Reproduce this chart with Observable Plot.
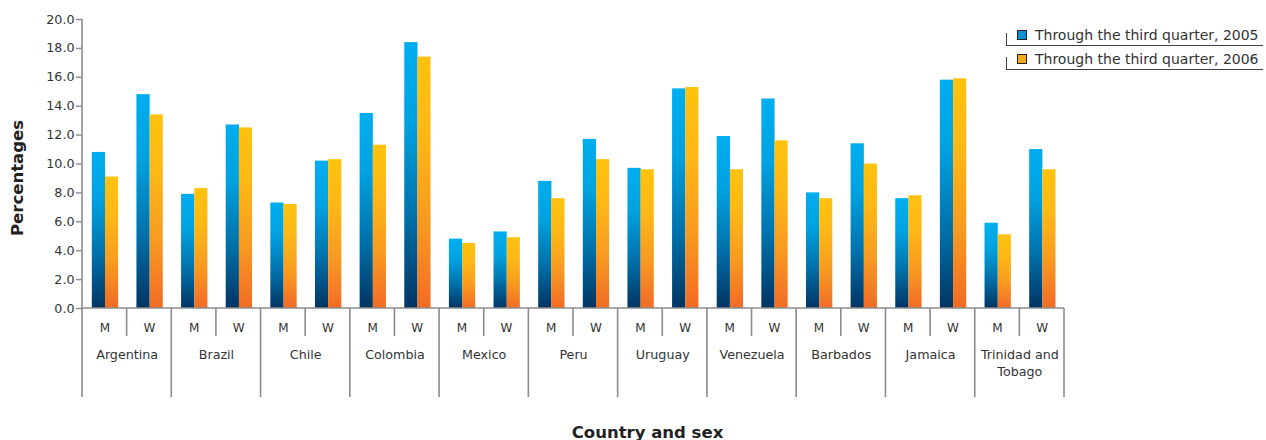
<!DOCTYPE html>
<html>
<head>
<meta charset="utf-8">
<script src="https://cdn.jsdelivr.net/npm/d3@7"></script>
<script src="https://cdn.jsdelivr.net/npm/@observablehq/plot@0.6"></script>
<style>
  body { margin: 0; background: #fff; font-family: "DejaVu Sans", Verdana, sans-serif; }
  #wrap { position: relative; width: 1266px; height: 440px; }
  .lg-row { position: absolute; left: 1006px; width: 256px; height: 12px;
            border-left: 1.5px solid #444; border-bottom: 1.5px solid #444; }
  .lg-sw { position: absolute; width: 8px; height: 8px; border: 1px solid #222; }
  .lg-tx { position: absolute; font-size: 14px; color: #333; white-space: nowrap; line-height: 14px; }
</style>
</head>
<body>
<svg width="0" height="0" style="position:absolute">
  <defs>
    <linearGradient id="g05" x1="0" y1="0" x2="0" y2="1">
      <stop offset="0" stop-color="#00aeef"/>
      <stop offset="0.3" stop-color="#00a2e1"/>
      <stop offset="0.65" stop-color="#0072ab"/>
      <stop offset="1" stop-color="#003463"/>
    </linearGradient>
    <linearGradient id="g06" x1="0" y1="0" x2="0" y2="1">
      <stop offset="0" stop-color="#ffc20e"/>
      <stop offset="0.3" stop-color="#fdb816"/>
      <stop offset="0.65" stop-color="#f89b21"/>
      <stop offset="1" stop-color="#f26b26"/>
    </linearGradient>
  </defs>
</svg>
<div id="wrap"></div>
<script>
const countries = ["Argentina", "Brazil", "Chile", "Colombia", "Mexico", "Peru", "Uruguay", "Venezuela", "Barbados", "Jamaica", "Trinidad and Tobago"];
const countryLabels = ["Argentina", "Brazil", "Chile", "Colombia", "Mexico", "Peru", "Uruguay", "Venezuela", "Barbados", "Jamaica", "Trinidad and\nTobago"];
const sexes = ["M", "W"];
const series = ["Through the third quarter, 2005", "Through the third quarter, 2006"];
// values in order: country M, country W
const v2005 = [10.8, 14.8, 7.9, 12.7, 7.3, 10.2, 13.5, 18.4, 4.8, 5.3, 8.8, 11.7, 9.7, 15.2, 11.9, 14.5, 8.0, 11.4, 7.6, 15.8, 5.9, 11.0];
const v2006 = [9.1, 13.4, 8.3, 12.5, 7.2, 10.3, 11.3, 17.4, 4.5, 4.9, 7.6, 10.3, 9.6, 15.3, 9.6, 11.6, 7.6, 10.0, 7.8, 15.9, 5.1, 9.6];
const yTicks = [0, 2, 4, 6, 8, 10, 12, 14, 16, 18, 20];

const rows = [];
countries.forEach((c, i) => sexes.forEach((s, j) => {
  const k = i * 2 + j;
  rows.push({key: c + "|" + s, country: c, sex: s, a: v2005[k], b: v2006[k]});
}));
const keys = rows.map(d => d.key);

const W = 1266, H = 440, ML = 82, MR = 202, MT = 19, MB = 132;
const BW = (W - ML - MR) / keys.length;

function separators(index, scales, values, dims) {
  const x = scales.x, y = scales.y;
  const bw = typeof x.bandwidth === "function" ? x.bandwidth() : x.bandwidth;
  const y0 = y(0);
  const g = d3.create("svg:g").attr("stroke", "#8c8c8c").attr("stroke-width", 1.6).attr("fill", "none");
  g.append("line").attr("x1", dims.marginLeft).attr("x2", dims.width - dims.marginRight)
    .attr("y1", y0).attr("y2", y0);
  g.append("line").attr("x1", dims.marginLeft).attr("x2", dims.marginLeft)
    .attr("y1", dims.marginTop).attr("y2", y0 + 89);
  countries.forEach((c, i) => {
    const xm = x(c + "|M"), xw = x(c + "|W");
    if (i > 0) g.append("line").attr("x1", xm).attr("x2", xm).attr("y1", y0).attr("y2", y0 + 89);
    g.append("line").attr("x1", xw).attr("x2", xw).attr("y1", y0).attr("y2", y0 + 28);
  });
  const xe = x(keys[keys.length - 1]) + bw;
  g.append("line").attr("x1", xe).attr("x2", xe).attr("y1", y0).attr("y2", y0 + 89);
  return g.node();
}

const chart = Plot.plot({
  width: W, height: H,
  marginLeft: ML, marginRight: MR, marginTop: MT, marginBottom: MB,
  style: {fontFamily: "DejaVu Sans, Verdana, sans-serif", fontSize: "12.5px", color: "#333", background: "transparent"},
  x: {type: "band", domain: keys, padding: 0, round: false, axis: null},
  y: {domain: [0, 20], axis: null},
  marks: [
    Plot.barY(rows, {x: "key", y: "a", fill: "url(#g05)", insetLeft: 9.8, insetRight: 21.6}),
    Plot.barY(rows, {x: "key", y: "b", fill: "url(#g06)", insetLeft: 23, insetRight: 8.5}),
    Plot.axisY({ticks: yTicks, tickFormat: d => d.toFixed(1), tickSize: 6, tickPadding: 2,
                stroke: "#8c8c8c", fill: "#333", fontSize: 12.7, strokeWidth: 1.4}),
    separators,
    Plot.text(rows, {x: "key", text: "sex", frameAnchor: "bottom", dy: 23, fontSize: 12, fill: "#333"}),
    Plot.text(countries, {x: d => d + "|M", text: (d, i) => countryLabels[i], frameAnchor: "bottom",
                          dx: BW / 2, dy: 37.5, lineAnchor: "top", lineHeight: 1.4, fontSize: 12.7, fill: "#333"}),
    Plot.text(["Percentages"], {frameAnchor: "left", textAnchor: "middle", dx: -65, dy: 14, rotate: -90,
                                fontSize: 16.5, fontWeight: "bold", fill: "#222"}),
    Plot.text(["Country and sex"], {frameAnchor: "bottom", textAnchor: "middle", dx: 74, dy: 129,
                                    fontSize: 16.5, fontWeight: "bold", fill: "#222"})
  ]
});
const wrap = document.getElementById("wrap");
wrap.appendChild(chart);

// legend
const swFill = ["#0e8ed2", "#f8a81b"];
const rowTops = [33, 57];
series.forEach((s, i) => {
  const r = document.createElement("div");
  r.className = "lg-row";
  r.style.top = rowTops[i] + "px";
  wrap.appendChild(r);
  const sw = document.createElement("div");
  sw.className = "lg-sw";
  sw.style.left = "1016.5px";
  sw.style.top = (rowTops[i] - 3) + "px";
  sw.style.background = swFill[i];
  wrap.appendChild(sw);
  const t = document.createElement("div");
  t.className = "lg-tx";
  t.style.left = "1035px";
  t.style.top = (rowTops[i] - 5) + "px";
  t.textContent = s;
  wrap.appendChild(t);
});
</script>
</body>
</html>
